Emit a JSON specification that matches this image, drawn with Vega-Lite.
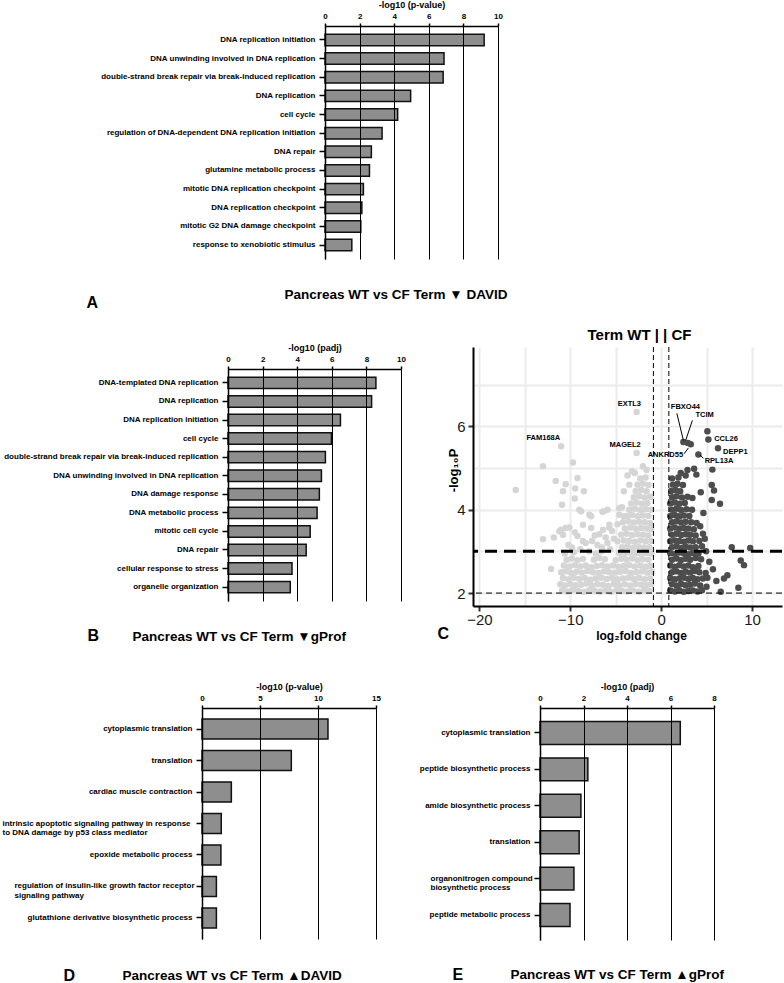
{
"$schema":"https://vega.github.io/schema/vega-lite/v6.json",
"background":"white",
"padding":{"left":2,"top":0,"right":0,"bottom":0},
"config":{"font":"Liberation Sans","view":{"stroke":null},
 "axis":{"labelFlush":false,"labelOverlap":false,"labelColor":"#000","titleColor":"#000"},
 "axisBand":{"labelFontSize":8,"labelFontWeight":"bold","tickSize":6,"tickWidth":1.5,"tickColor":"#000","domainColor":"#000","domainWidth":1.5,"labelPadding":4,"labelLimit":400,"titleFontWeight":"bold","titleFontSize":16,"titleAngle":0,"titleAlign":"left","titleBaseline":"alphabetic","grid":false,"zindex":1},
 "axisTop":{"labelFontSize":8,"labelFontWeight":"bold","tickSize":3,"tickWidth":1.5,"tickColor":"#000","domainColor":"#000","domainWidth":1.5,"gridColor":"#000","gridWidth":1,"labelPadding":3,"titleFontSize":9,"titleFontWeight":"bold","titlePadding":3}
},
"datasets":{
"pts":[
{"fc":-10.9,"p":2.06},{"fc":-10.3,"p":2.04},{"fc":-9.7,"p":2.08},{"fc":-9.1,"p":2.05},{"fc":-8.5,"p":2.03},{"fc":-7.9,"p":2.07},{"fc":-7.3,"p":2.05},{"fc":-6.7,"p":2.04},{"fc":-6.1,"p":2.06},{"fc":-5.5,"p":2.03},{"fc":-4.9,"p":2.08},{"fc":-4.3,"p":2.05},{"fc":-3.7,"p":2.04},{"fc":-3.1,"p":2.06},{"fc":-2.5,"p":2.03},{"fc":-1.9,"p":2.07},{"fc":-1.3,"p":2.05},
{"fc":-11.1,"p":2.21},{"fc":-10.6,"p":2.18},{"fc":-10.0,"p":2.22},{"fc":-9.4,"p":2.19},{"fc":-8.8,"p":2.2},{"fc":-8.2,"p":2.23},{"fc":-7.6,"p":2.18},{"fc":-7.0,"p":2.21},{"fc":-6.4,"p":2.2},{"fc":-5.8,"p":2.17},{"fc":-5.2,"p":2.22},{"fc":-4.6,"p":2.19},{"fc":-4.0,"p":2.21},{"fc":-3.4,"p":2.18},{"fc":-2.8,"p":2.22},{"fc":-2.2,"p":2.2},{"fc":-1.6,"p":2.19},{"fc":-1.1,"p":2.21},
{"fc":-10.8,"p":2.36},{"fc":-10.2,"p":2.33},{"fc":-9.6,"p":2.37},{"fc":-9.0,"p":2.34},{"fc":-8.4,"p":2.36},{"fc":-7.8,"p":2.32},{"fc":-7.2,"p":2.35},{"fc":-6.6,"p":2.37},{"fc":-6.0,"p":2.34},{"fc":-5.4,"p":2.36},{"fc":-4.8,"p":2.33},{"fc":-4.2,"p":2.35},{"fc":-3.6,"p":2.37},{"fc":-3.0,"p":2.34},{"fc":-2.4,"p":2.36},{"fc":-1.8,"p":2.33},{"fc":-1.2,"p":2.35},
{"fc":-11.0,"p":2.5},{"fc":-10.5,"p":2.52},{"fc":-9.9,"p":2.48},{"fc":-9.3,"p":2.51},{"fc":-8.7,"p":2.49},{"fc":-8.1,"p":2.53},{"fc":-7.5,"p":2.5},{"fc":-6.9,"p":2.48},{"fc":-6.3,"p":2.52},{"fc":-5.7,"p":2.5},{"fc":-5.1,"p":2.49},{"fc":-4.5,"p":2.51},{"fc":-3.9,"p":2.53},{"fc":-3.3,"p":2.48},{"fc":-2.7,"p":2.5},{"fc":-2.1,"p":2.52},{"fc":-1.5,"p":2.49},{"fc":-1.0,"p":2.51},
{"fc":-10.7,"p":2.66},{"fc":-10.1,"p":2.63},{"fc":-9.5,"p":2.67},{"fc":-8.9,"p":2.64},{"fc":-8.3,"p":2.66},{"fc":-7.7,"p":2.62},{"fc":-7.1,"p":2.65},{"fc":-6.5,"p":2.67},{"fc":-5.9,"p":2.64},{"fc":-5.3,"p":2.66},{"fc":-4.7,"p":2.63},{"fc":-4.1,"p":2.65},{"fc":-3.5,"p":2.67},{"fc":-2.9,"p":2.64},{"fc":-2.3,"p":2.66},{"fc":-1.7,"p":2.63},{"fc":-1.2,"p":2.65},
{"fc":-10.4,"p":2.8},{"fc":-9.8,"p":2.83},{"fc":-9.2,"p":2.79},{"fc":-8.6,"p":2.82},{"fc":-7.4,"p":2.8},{"fc":-6.8,"p":2.84},{"fc":-6.2,"p":2.81},{"fc":-5.0,"p":2.79},{"fc":-4.4,"p":2.82},{"fc":-3.8,"p":2.8},{"fc":-3.2,"p":2.83},{"fc":-2.6,"p":2.79},{"fc":-2.0,"p":2.81},{"fc":-1.4,"p":2.8},
{"fc":-12.1,"p":2.58},{"fc":-10.6,"p":2.95},{"fc":-9.6,"p":2.98},{"fc":-8.9,"p":3.05},{"fc":-7.2,"p":2.95},{"fc":-6.6,"p":3.0},{"fc":-5.6,"p":3.05},{"fc":-10.2,"p":3.15},{"fc":-8.6,"p":3.25},{"fc":-7.0,"p":3.15},{"fc":-5.9,"p":3.2},{"fc":-10.8,"p":3.4},{"fc":-9.5,"p":3.45},{"fc":-7.3,"p":3.38},{"fc":-6.4,"p":3.52},{"fc":-5.2,"p":3.3},{"fc":-13.0,"p":3.29},{"fc":-11.8,"p":3.33},{"fc":-11.0,"p":3.52},{"fc":-10.1,"p":3.57},{"fc":-9.2,"p":3.37},{"fc":-8.3,"p":3.2},{"fc":-7.6,"p":3.25},{"fc":-9.8,"p":3.09},{"fc":-7.9,"p":3.0},{"fc":-6.5,"p":3.09},{"fc":-6.1,"p":3.33},{"fc":-5.4,"p":3.49},{"fc":-4.8,"p":3.65},{"fc":-5.7,"p":3.57},{"fc":-6.8,"p":3.41},{"fc":-7.7,"p":3.56},{"fc":-8.6,"p":3.64},{"fc":-11.2,"p":3.48},{"fc":-10.5,"p":3.56},
{"fc":-16.0,"p":4.47},{"fc":-13.0,"p":5.04},{"fc":-11.6,"p":4.69},{"fc":-11.0,"p":5.52},{"fc":-9.7,"p":5.13},{"fc":-10.5,"p":4.61},{"fc":-10.8,"p":4.44},{"fc":-9.45,"p":4.51},{"fc":-9.2,"p":4.76},{"fc":-8.5,"p":4.44},{"fc":-9.5,"p":4.27},{"fc":-10.9,"p":4.12},{"fc":-9.0,"p":4.0},{"fc":-7.9,"p":3.88},{"fc":-8.8,"p":3.96},{"fc":-7.7,"p":3.84},{"fc":-6.45,"p":3.95},{"fc":-5.9,"p":4.0},{"fc":-4.3,"p":4.06},{"fc":-4.6,"p":4.04},{"fc":-6.3,"p":3.96},{"fc":-4.1,"p":3.84},{"fc":-4.6,"p":3.88},{"fc":-5.7,"p":3.64},{"fc":-3.7,"p":4.82},{"fc":-3.2,"p":4.92},{"fc":-2.0,"p":5.04},{"fc":-3.5,"p":4.6},{"fc":-4.1,"p":4.44},{"fc":-2.7,"p":6.34},{"fc":-2.7,"p":5.36},{"fc":-1.6,"p":4.95},{"fc":-2.9,"p":4.88},
{"fc":-4.6,"p":2.96},{"fc":-4.0,"p":2.94},{"fc":-3.4,"p":2.97},{"fc":-2.8,"p":2.95},{"fc":-2.2,"p":2.93},{"fc":-1.6,"p":2.96},{"fc":-1.1,"p":2.95},
{"fc":-4.3,"p":3.1},{"fc":-3.7,"p":3.12},{"fc":-3.1,"p":3.08},{"fc":-2.5,"p":3.11},{"fc":-1.9,"p":3.09},{"fc":-1.3,"p":3.1},
{"fc":-4.8,"p":3.24},{"fc":-4.1,"p":3.26},{"fc":-3.5,"p":3.25},{"fc":-2.9,"p":3.23},{"fc":-2.3,"p":3.26},{"fc":-1.7,"p":3.24},{"fc":-1.1,"p":3.25},
{"fc":-4.4,"p":3.4},{"fc":-3.8,"p":3.42},{"fc":-3.2,"p":3.39},{"fc":-2.6,"p":3.41},{"fc":-2.0,"p":3.4},{"fc":-1.4,"p":3.38},
{"fc":-4.0,"p":3.55},{"fc":-3.4,"p":3.57},{"fc":-2.8,"p":3.54},{"fc":-2.2,"p":3.56},{"fc":-1.6,"p":3.55},{"fc":-1.1,"p":3.53},
{"fc":-4.2,"p":3.7},{"fc":-3.6,"p":3.72},{"fc":-3.0,"p":3.69},{"fc":-2.4,"p":3.71},{"fc":-1.8,"p":3.7},{"fc":-1.2,"p":3.68},
{"fc":-3.8,"p":3.85},{"fc":-3.2,"p":3.87},{"fc":-2.6,"p":3.84},{"fc":-2.0,"p":3.86},{"fc":-1.4,"p":3.85},
{"fc":-3.5,"p":4.0},{"fc":-2.9,"p":4.02},{"fc":-2.3,"p":3.99},{"fc":-1.7,"p":4.01},{"fc":-1.1,"p":4.0},
{"fc":-3.3,"p":4.15},{"fc":-2.7,"p":4.17},{"fc":-2.1,"p":4.14},{"fc":-1.5,"p":4.16},
{"fc":-3.0,"p":4.3},{"fc":-2.4,"p":4.32},{"fc":-1.8,"p":4.29},{"fc":-1.2,"p":4.31},
{"fc":-2.8,"p":4.45},{"fc":-2.2,"p":4.47},{"fc":-1.6,"p":4.44},
{"fc":-2.6,"p":4.6},{"fc":-2.0,"p":4.62},{"fc":-1.4,"p":4.59},
{"fc":-2.3,"p":4.75},{"fc":-1.7,"p":4.77},
{"fc":1.0,"p":2.06},{"fc":1.5,"p":2.04},{"fc":2.0,"p":2.07},{"fc":2.5,"p":2.03},{"fc":3.0,"p":2.05},{"fc":3.5,"p":2.06},{"fc":4.0,"p":2.04},{"fc":4.5,"p":2.07},
{"fc":1.2,"p":2.21},{"fc":1.7,"p":2.18},{"fc":2.2,"p":2.22},{"fc":2.7,"p":2.19},{"fc":3.2,"p":2.2},{"fc":3.7,"p":2.23},{"fc":4.3,"p":2.18},
{"fc":1.0,"p":2.36},{"fc":1.5,"p":2.33},{"fc":2.0,"p":2.35},{"fc":2.5,"p":2.37},{"fc":3.0,"p":2.34},{"fc":3.5,"p":2.36},{"fc":4.0,"p":2.33},{"fc":4.6,"p":2.35},
{"fc":1.2,"p":2.5},{"fc":1.7,"p":2.52},{"fc":2.2,"p":2.48},{"fc":2.7,"p":2.51},{"fc":3.2,"p":2.49},{"fc":3.7,"p":2.53},{"fc":4.2,"p":2.5},{"fc":4.9,"p":2.48},
{"fc":1.0,"p":2.66},{"fc":1.5,"p":2.63},{"fc":2.0,"p":2.67},{"fc":2.5,"p":2.64},{"fc":3.0,"p":2.66},{"fc":3.5,"p":2.62},{"fc":4.1,"p":2.65},
{"fc":1.2,"p":2.8},{"fc":1.7,"p":2.83},{"fc":2.2,"p":2.79},{"fc":2.7,"p":2.82},{"fc":3.2,"p":2.8},{"fc":3.8,"p":2.84},{"fc":4.4,"p":2.81},
{"fc":1.0,"p":2.96},{"fc":1.5,"p":2.94},{"fc":2.0,"p":2.97},{"fc":2.5,"p":2.95},{"fc":3.0,"p":2.93},{"fc":3.5,"p":2.96},{"fc":4.1,"p":2.95},
{"fc":1.2,"p":3.1},{"fc":1.7,"p":3.12},{"fc":2.2,"p":3.08},{"fc":2.7,"p":3.11},{"fc":3.2,"p":3.09},{"fc":3.8,"p":3.1},{"fc":4.5,"p":3.12},
{"fc":1.0,"p":3.24},{"fc":1.5,"p":3.26},{"fc":2.0,"p":3.25},{"fc":2.5,"p":3.23},{"fc":3.0,"p":3.26},{"fc":3.5,"p":3.24},{"fc":4.2,"p":3.25},
{"fc":1.2,"p":3.4},{"fc":1.7,"p":3.42},{"fc":2.2,"p":3.39},{"fc":2.7,"p":3.41},{"fc":3.2,"p":3.4},{"fc":3.8,"p":3.38},{"fc":4.6,"p":3.42},
{"fc":1.0,"p":3.55},{"fc":1.5,"p":3.57},{"fc":2.0,"p":3.54},{"fc":2.5,"p":3.56},{"fc":3.0,"p":3.55},{"fc":3.6,"p":3.53},
{"fc":1.2,"p":3.7},{"fc":1.7,"p":3.72},{"fc":2.2,"p":3.69},{"fc":2.7,"p":3.71},{"fc":3.3,"p":3.7},{"fc":3.9,"p":3.68},
{"fc":1.0,"p":3.85},{"fc":1.5,"p":3.87},{"fc":2.0,"p":3.84},{"fc":2.5,"p":3.86},{"fc":3.1,"p":3.85},
{"fc":1.2,"p":4.0},{"fc":1.7,"p":4.02},{"fc":2.2,"p":3.99},{"fc":2.8,"p":4.01},{"fc":3.4,"p":4.0},
{"fc":1.0,"p":4.15},{"fc":1.5,"p":4.17},{"fc":2.0,"p":4.14},{"fc":2.6,"p":4.16},
{"fc":1.2,"p":4.3},{"fc":1.7,"p":4.32},{"fc":2.3,"p":4.29},{"fc":2.9,"p":4.31},
{"fc":1.1,"p":4.45},{"fc":1.6,"p":4.47},{"fc":2.1,"p":4.44},
{"fc":1.3,"p":4.6},{"fc":1.8,"p":4.62},{"fc":2.4,"p":4.59},
{"fc":1.2,"p":4.75},{"fc":1.9,"p":4.77},
{"fc":5.09,"p":5.88},{"fc":5.2,"p":5.68},{"fc":6.26,"p":5.47},{"fc":4.1,"p":5.32},{"fc":2.45,"p":5.62},{"fc":2.95,"p":5.6},{"fc":3.26,"p":5.57},{"fc":5.64,"p":4.96},{"fc":3.63,"p":4.98},{"fc":2.9,"p":4.95},{"fc":2.16,"p":4.88},{"fc":2.7,"p":4.82},{"fc":3.88,"p":4.84},{"fc":5.57,"p":4.59},{"fc":5.82,"p":4.46},{"fc":4.36,"p":4.42},{"fc":5.57,"p":4.23},{"fc":6.48,"p":4.14},{"fc":4.65,"p":3.92},{"fc":3.44,"p":4.28},{"fc":7.77,"p":3.1},{"fc":9.8,"p":3.08},{"fc":8.76,"p":2.78},{"fc":9.12,"p":2.67},{"fc":7.29,"p":2.43},{"fc":6.92,"p":2.35},{"fc":6.08,"p":2.29},{"fc":8.5,"p":2.13},{"fc":6.56,"p":2.03},{"fc":5.7,"p":2.57},{"fc":5.09,"p":2.37},{"fc":5.3,"p":2.75},{"fc":4.95,"p":3.0},{"fc":4.8,"p":3.3},{"fc":5.0,"p":2.15},{"fc":4.3,"p":3.6}
],
"links":[{"x1":1.73,"y1":6.31,"x2":2.45,"y2":5.66},{"x1":3.44,"y1":6.14,"x2":2.7,"y2":5.66},{"x1":2.53,"y1":5.34,"x2":3.0,"y2":5.48},{"x1":4.65,"y1":5.23,"x2":4.29,"y2":5.31}],
"genes":[{"gene":"EXTL3","lx":-3.5,"ly":6.53},{"gene":"FAM168A","lx":-12.97,"ly":5.72},{"gene":"MAGEL2","lx":-3.96,"ly":5.56},{"gene":"FBXO44","lx":2.67,"ly":6.45},{"gene":"TCIM","lx":4.78,"ly":6.26},{"gene":"CCL26","lx":7.14,"ly":5.7},{"gene":"DEPP1","lx":8.17,"ly":5.38},{"gene":"ANKRD55","lx":0.47,"ly":5.31},{"gene":"RPL13A","lx":6.37,"ly":5.16}]
},
"bounds":"flush",
"spacing":0,
"vconcat":[
{"bounds":"flush","spacing":0,"hconcat":[
{"width":123,"height":1,"data":{"values":[]},"mark":"point"},
{"width":173,"height":233,
 "data":{"values":[
 {"term":"DNA replication initiation","v":9.2},
 {"term":"DNA unwinding involved in DNA replication","v":6.88},
 {"term":"double-strand break repair via break-induced replication","v":6.83},
 {"term":"DNA replication","v":4.95},
 {"term":"cell cycle","v":4.2},
 {"term":"regulation of DNA-dependent DNA replication initiation","v":3.3},
 {"term":"DNA repair","v":2.68},
 {"term":"glutamine metabolic process","v":2.57},
 {"term":"mitotic DNA replication checkpoint","v":2.22},
 {"term":"DNA replication checkpoint","v":2.13},
 {"term":"mitotic G2 DNA damage checkpoint","v":2.07},
 {"term":"response to xenobiotic stimulus","v":1.55}]},
 "layer":[
  {"mark":{"type":"bar","fill":"#8e8e8e","stroke":"#111","strokeWidth":1.5},
   "encoding":{
    "y":{"field":"term","type":"nominal","sort":null,"scale":{"paddingInner":0.385,"paddingOuter":0.44},
         "axis":{"title":"A","titleX":-239,"titleY":281}},
    "x":{"field":"v","type":"quantitative","scale":{"domain":[0,10],"nice":false},
         "axis":{"orient":"top","values":[0,2,4,6,8,10],"grid":true,"zindex":1,"title":"-log10 (p-value)"}}}},
  {"mark":{"type":"bar","opacity":0},
   "encoding":{
    "y":{"field":"term","type":"nominal","sort":null},
    "x":{"field":"v","type":"quantitative","axis":{"orient":"bottom","labels":false,"ticks":false,"domain":false,"grid":false,"title":"Pancreas WT vs CF Term ▼ DAVID","titleFontSize":13.5,"titleFontWeight":"bold","titleX":-41,"titleY":39,"titleAlign":"left","titleBaseline":"alphabetic"}}}}
 ],
 "resolve":{"axis":{"x":"independent"}}
}]},
{"width":1,"height":321,"data":{"values":[]},"mark":"point"},
{"bounds":"flush","spacing":0,"hconcat":[
{"width":271,"height":1,"data":{"values":[]},"mark":"point"},
{"width":309,"height":259,
 "title":{"text":"Term WT |  | CF","frame":"group","anchor":"middle","dx":12,"fontSize":15,"fontWeight":"bold","color":"#000","offset":4},
 "layer":[
  {"data":{"name":"pts"},"mark":{"type":"circle","size":42,"opacity":1},
   "encoding":{
    "x":{"field":"fc","type":"quantitative","scale":{"domain":[-20.7,13.3],"nice":false,"zero":false},
         "axis":{"orient":"bottom","values":[-20,-15,-10,-5,0,5,10],"labelExpr":"datum.value % 10 == 0 ? datum.label : ''","grid":true,"gridColor":"#ebebeb","gridWidth":2,"domainColor":"#000","domainWidth":2,"tickColor":"#333","tickWidth":2,"tickSize":5,"tickOpacity":{"condition":{"test":"datum.value % 10 != 0","value":0},"value":1},"labelFontSize":15,"labelColor":"#1a1a1a","labelPadding":1,"title":"log₂fold change","titleFontSize":12,"titleFontWeight":"bold","titleX":168,"titleY":33,"titleAlign":"center","titleBaseline":"alphabetic"}},
    "y":{"field":"p","type":"quantitative","scale":{"domain":[1.69,7.9],"nice":false,"zero":false},
         "axis":{"values":[2,3,4,5,6,7],"labelExpr":"datum.value % 2 == 0 ? datum.label : ''","grid":true,"gridColor":"#ebebeb","gridWidth":2,"domainColor":"#000","domainWidth":2,"tickColor":"#333","tickWidth":2,"tickSize":5,"tickOpacity":{"condition":{"test":"datum.value % 2 == 1","value":0},"value":1},"labelFontSize":15,"labelColor":"#1a1a1a","labelPadding":3,"title":"-log₁₀P","titleFontSize":13,"titleFontWeight":"bold","titleAngle":270,"titleX":-20,"titleY":123,"titleAlign":"center","titleBaseline":"middle"}},
    "color":{"condition":{"test":"datum.fc > 0","value":"#4d4d4d"},"value":"#d5d5d5"}}},
  {"data":{"values":[{"fc":-0.85},{"fc":0.85}]},"mark":{"type":"rule","color":"#000","strokeWidth":1,"strokeDash":[5,3]},
   "encoding":{"x":{"field":"fc","type":"quantitative","axis":{"orient":"top","labels":false,"ticks":false,"domain":false,"grid":false,"title":"C","titleFontSize":16,"titleFontWeight":"bold","titleX":-36,"titleY":291,"titleAlign":"left","titleBaseline":"alphabetic","titleAngle":0}}}},
  {"data":{"values":[{"p":2}]},"mark":{"type":"rule","color":"#000","strokeWidth":1,"strokeDash":[6,4]},
   "encoding":{"y":{"field":"p","type":"quantitative"}}},
  {"data":{"values":[{"p":3}]},"mark":{"type":"rule","color":"#000","strokeWidth":3,"strokeDash":[12,7]},
   "encoding":{"y":{"field":"p","type":"quantitative"}}},
  {"data":{"name":"links"},"mark":{"type":"rule","color":"#000","strokeWidth":1},
   "encoding":{"x":{"field":"x1","type":"quantitative","axis":null},"y":{"field":"y1","type":"quantitative"},"x2":{"field":"x2"},"y2":{"field":"y2"}}},
  {"data":{"name":"genes"},"mark":{"type":"text","fontSize":7.5,"fontWeight":"bold","color":"#000"},
   "encoding":{"x":{"field":"lx","type":"quantitative","axis":null},"y":{"field":"ly","type":"quantitative"},"text":{"field":"gene"}}}
 ],
 "resolve":{"axis":{"x":"independent"}}
}]},
{"width":1,"height":22,"data":{"values":[]},"mark":"point"},
{"bounds":"flush","spacing":0,"hconcat":[
{"width":26,"height":1,"data":{"values":[]},"mark":"point"},
{"width":173,"height":232,
 "data":{"values":[
 {"term":"DNA-templated DNA replication","v":8.55},
 {"term":"DNA replication","v":8.3},
 {"term":"DNA replication initiation","v":6.5},
 {"term":"cell cycle","v":5.98},
 {"term":"double-strand break repair via break-induced replication","v":5.63},
 {"term":"DNA unwinding involved in DNA replication","v":5.4},
 {"term":"DNA damage response","v":5.28},
 {"term":"DNA metabolic process","v":5.15},
 {"term":"mitotic cell cycle","v":4.75},
 {"term":"DNA repair","v":4.52},
 {"term":"cellular response to stress","v":3.7},
 {"term":"organelle organization","v":3.6}]},
 "layer":[
  {"mark":{"type":"bar","fill":"#8e8e8e","stroke":"#111","strokeWidth":1.5},
   "encoding":{
    "y":{"field":"term","type":"nominal","sort":null,"scale":{"paddingInner":0.385,"paddingOuter":0.44},
         "axis":{"title":"B","titleX":-141,"titleY":271}},
    "x":{"field":"v","type":"quantitative","scale":{"domain":[0,10],"nice":false},
         "axis":{"orient":"top","values":[0,2,4,6,8,10],"grid":true,"zindex":1,"title":"-log10 (padj)"}}}},
  {"mark":{"type":"bar","opacity":0},
   "encoding":{
    "y":{"field":"term","type":"nominal","sort":null},
    "x":{"field":"v","type":"quantitative","axis":{"orient":"bottom","labels":false,"ticks":false,"domain":false,"grid":false,"title":"Pancreas WT vs CF Term ▼gProf","titleFontSize":13.5,"titleFontWeight":"bold","titleX":-96,"titleY":39,"titleAlign":"left","titleBaseline":"alphabetic"}}}}
 ],
 "resolve":{"axis":{"x":"independent"}}
}]},
{"width":1,"height":339,"data":{"values":[]},"mark":"point"},
{"bounds":"flush","spacing":0,"hconcat":[
{"width":174,"height":231,
 "data":{"values":[
 {"term":"cytoplasmic translation","v":10.86},
 {"term":"translation","v":7.7},
 {"term":"cardiac muscle contraction","v":2.53},
 {"term":"intrinsic apoptotic signaling pathway in response\nto DNA damage by p53 class mediator","v":1.66},
 {"term":"epoxide metabolic process","v":1.63},
 {"term":"regulation of insulin-like growth factor receptor\nsignaling pathway","v":1.24},
 {"term":"glutathione derivative biosynthetic process","v":1.24}]},
 "layer":[
  {"mark":{"type":"bar","fill":"#8e8e8e","stroke":"#111","strokeWidth":1.5},
   "encoding":{
    "y":{"field":"term","type":"nominal","sort":null,"scale":{"paddingInner":0.365,"paddingOuter":0.35},
         "axis":{"title":"D","titleX":-139,"titleY":272,"labelExpr":"split(datum.label, '\\n')","labelLineHeight":9.5,
          "labelAlign":{"condition":{"test":"indexof(datum.value, '\\n') >= 0","value":"left"},"value":"right"},
          "labelPadding":{"condition":[{"test":"indexof(datum.value, 'intrinsic') == 0","value":194},{"test":"indexof(datum.value, 'regulation of insulin') == 0","value":182}],"value":4}}},
    "x":{"field":"v","type":"quantitative","scale":{"domain":[0,15],"nice":false},
         "axis":{"orient":"top","values":[0,5,10,15],"grid":true,"zindex":1,"title":"-log10 (p-value)"}}}},
  {"mark":{"type":"bar","opacity":0},
   "encoding":{
    "y":{"field":"term","type":"nominal","sort":null},
    "x":{"field":"v","type":"quantitative","axis":{"orient":"bottom","labels":false,"ticks":false,"domain":false,"grid":false,"title":"Pancreas WT vs CF Term ▲DAVID","titleFontSize":13.5,"titleFontWeight":"bold","titleX":-80,"titleY":40,"titleAlign":"left","titleBaseline":"alphabetic"}}}}
 ],
 "resolve":{"axis":{"x":"independent"}}
},
{"width":164,"height":1,"data":{"values":[]},"mark":"point"},
{"width":174,"height":232,
 "data":{"values":[
 {"term":"cytoplasmic translation","v":6.45},
 {"term":"peptide biosynthetic process","v":2.2},
 {"term":"amide biosynthetic process","v":1.88},
 {"term":"translation","v":1.8},
 {"term":"organonitrogen compound\nbiosynthetic process","v":1.56},
 {"term":"peptide metabolic process","v":1.38}]},
 "layer":[
  {"mark":{"type":"bar","fill":"#8e8e8e","stroke":"#111","strokeWidth":1.5},
   "encoding":{
    "y":{"field":"term","type":"nominal","sort":null,"scale":{"paddingInner":0.37,"paddingOuter":0.37},
         "axis":{"title":"E","titleX":-88,"titleY":271,"labelExpr":"split(datum.label, '\\n')","labelLineHeight":9.5,
          "labelAlign":{"condition":{"test":"indexof(datum.value, '\\n') >= 0","value":"left"},"value":"right"},
          "labelPadding":{"condition":{"test":"indexof(datum.value, '\\n') >= 0","value":104},"value":4}}},
    "x":{"field":"v","type":"quantitative","scale":{"domain":[0,8],"nice":false},
         "axis":{"orient":"top","values":[0,2,4,6,8],"grid":true,"zindex":1,"title":"-log10 (padj)"}}}},
  {"mark":{"type":"bar","opacity":0},
   "encoding":{
    "y":{"field":"term","type":"nominal","sort":null},
    "x":{"field":"v","type":"quantitative","axis":{"orient":"bottom","labels":false,"ticks":false,"domain":false,"grid":false,"title":"Pancreas WT vs CF Term ▲gProf","titleFontSize":13.5,"titleFontWeight":"bold","titleX":-30,"titleY":38,"titleAlign":"left","titleBaseline":"alphabetic"}}}}
 ],
 "resolve":{"axis":{"x":"independent"}}
}]}
]
}
